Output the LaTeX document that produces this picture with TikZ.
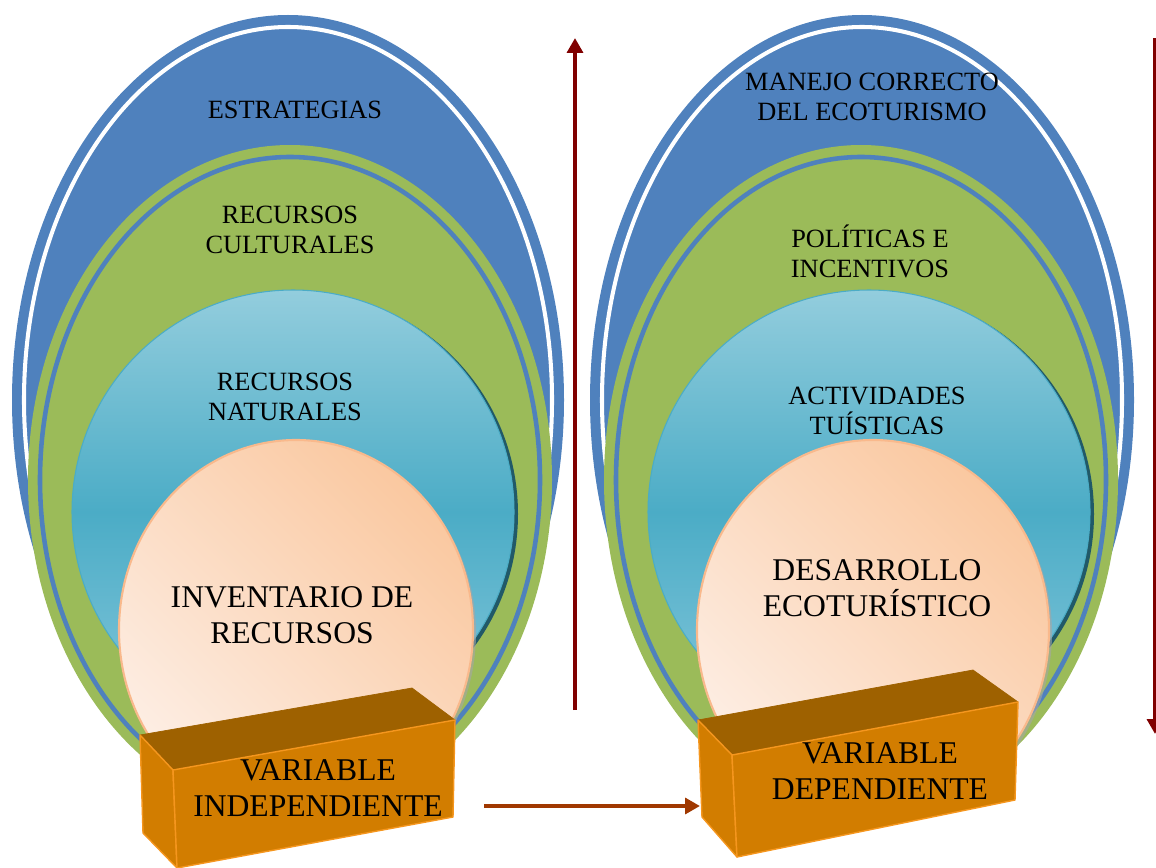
\documentclass[tikz,border=0pt]{standalone}
\usepackage{fontspec}
\setmainfont{Liberation Serif}
\usetikzlibrary{arrows.meta}

\definecolor{eblue}{RGB}{79,129,189}
\definecolor{egreen}{RGB}{155,187,89}
\definecolor{tealtop}{RGB}{147,205,221}
\definecolor{tealmid}{RGB}{75,172,198}
\definecolor{tealbot}{RGB}{135,200,220}
\definecolor{tealdark}{RGB}{33,89,104}
\definecolor{peachdark}{RGB}{250,200,160}
\definecolor{peachlight}{RGB}{253,238,228}
\definecolor{peachline}{RGB}{249,185,140}
\definecolor{boxfront}{RGB}{210,125,0}
\definecolor{boxtop}{RGB}{158,97,0}
\definecolor{boxedge}{RGB}{245,150,30}
\definecolor{uparrow}{RGB}{128,0,0}
\definecolor{sidearrow}{RGB}{160,56,0}

\begin{document}
\begin{tikzpicture}[x=0.02cm,y=-0.02cm]

\tikzstyle{outer} = [fill=eblue]
\tikzstyle{outer ring} = [draw=white, line width=2.3pt]
\tikzstyle{middle} = [fill=egreen]
\tikzstyle{middle ring} = [draw=eblue, line width=2.6pt]
\tikzstyle{inner shadow} = [fill=tealdark]
\tikzstyle{inner} = [draw=tealmid, line width=0.6pt, top color=tealtop, bottom color=tealbot, middle color=tealmid]
\tikzstyle{core shadow} = [fill=black!35, opacity=0.6]
\tikzstyle{core} = [draw=peachline, line width=1.2pt, top color=peachdark, bottom color=peachlight, shading angle=-45]
\tikzstyle{ringtext} = [align=center, font=\fontsize{15}{17}\selectfont]
\tikzstyle{coretext} = [align=center, font=\fontsize{18}{20.5}\selectfont]
\tikzstyle{boxfront} = [fill=boxfront, draw=boxedge, line width=0.8pt, line join=round]
\tikzstyle{boxtop} = [fill=boxtop, draw=boxtop, line join=round]
\tikzstyle{boxtext} = [align=center, font=\fontsize{18}{20.5}\selectfont]

\tikzstyle{arrow} = [line width=2.8pt, -{Triangle[length=8.5pt, width=9pt]}]

\useasboundingbox (0,0) rectangle (1156,868);

% left group
\fill[outer] (288,400) ellipse [x radius=276, y radius=385];
\draw[outer ring] (288,400) ellipse [x radius=264, y radius=373];
\fill[middle] (290,480) ellipse [x radius=262, y radius=335];
\draw[middle ring] (290,480) ellipse [x radius=250, y radius=323];
\fill[inner shadow] (297,514) ellipse [x radius=221, y radius=222];
\shade[inner] (293,512) ellipse [x radius=221, y radius=222];
\fill[core shadow] (299,633) ellipse [x radius=177, y radius=190];
\shade[core] (296,630) ellipse [x radius=177, y radius=190];

% right group
\fill[outer] (862,400) ellipse [x radius=272, y radius=385];
\draw[outer ring] (862,400) ellipse [x radius=260, y radius=373];
\fill[middle] (861,480) ellipse [x radius=257, y radius=335];
\draw[middle ring] (861,480) ellipse [x radius=245, y radius=323];
\fill[inner shadow] (873,514) ellipse [x radius=221, y radius=222];
\shade[inner] (869,512) ellipse [x radius=221, y radius=222];
\fill[core shadow] (876,633) ellipse [x radius=176, y radius=190];
\shade[core] (873,630) ellipse [x radius=176, y radius=190];

\node (est) [ringtext] at (295,110) {ESTRATEGIAS};
\node (cult) [ringtext] at (290,230) {RECURSOS\\CULTURALES};
\node (nat) [ringtext] at (285,397) {RECURSOS\\NATURALES};
\node (inv) [coretext] at (292,615) {INVENTARIO DE\\RECURSOS};

\node (man) [ringtext] at (872,97) {MANEJO CORRECTO\\DEL ECOTURISMO};
\node (pol) [ringtext] at (870,251) {POLÍTICAS E\\INCENTIVOS};
\node (act) [ringtext] at (877,411) {ACTIVIDADES\\TUÍSTICAS};
\node (des) [coretext] at (877,588) {DESARROLLO\\ECOTURÍSTICO};

% boxes
\fill[boxtop] (140,735) -- (412,688) -- (455,720) -- (173,770) -- cycle;
\filldraw[boxfront] (140,735) -- (173,770) -- (177,868) -- (143,833) -- cycle;
\filldraw[boxfront] (173,770) -- (455,720) -- (453,817) -- (177,868) -- cycle;
\node (vi) [boxtext] at (318,788) {VARIABLE\\INDEPENDIENTE};

\fill[boxtop] (698,720) -- (973,670) -- (1018,702) -- (732,755) -- cycle;
\filldraw[boxfront] (698,720) -- (732,755) -- (737,857) -- (702,817) -- cycle;
\filldraw[boxfront] (732,755) -- (1018,702) -- (1015,800) -- (737,857) -- cycle;
\node (vd) [boxtext] at (880,771) {VARIABLE\\DEPENDIENTE};

% arrows
\coordinate (upfrom) at (575,710);
\coordinate (upto) at (575,38);
\coordinate (downfrom) at (1155,38);
\coordinate (downto) at (1155,734);
\coordinate (vifrom) at (484,806);
\coordinate (vdto) at (700,806);

\draw [arrow, uparrow] (upfrom) -- (upto);
\draw [arrow, uparrow] (downfrom) -- (downto);
\draw [arrow, sidearrow] (vifrom) -- (vdto);

\end{tikzpicture}
\end{document}
